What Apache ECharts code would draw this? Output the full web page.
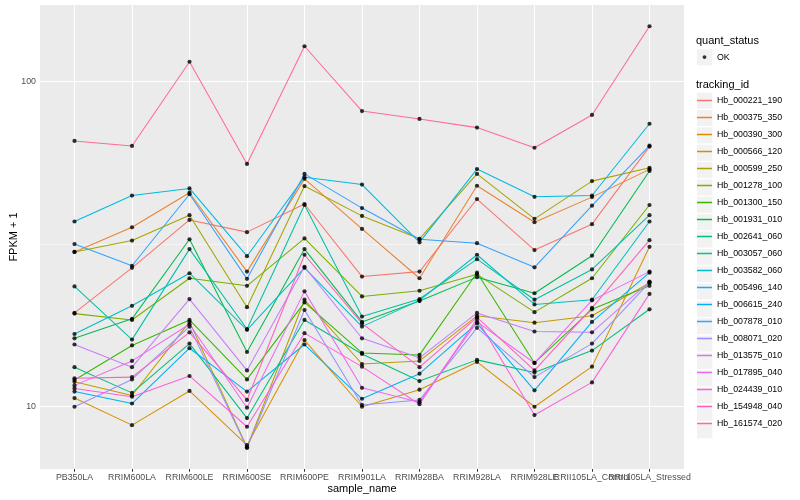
<!DOCTYPE html>
<html><head><meta charset="utf-8">
<script src="https://cdn.jsdelivr.net/npm/echarts@6/dist/echarts.min.js"></script>
<style>html,body{margin:0;padding:0;background:#fff}#c{width:800px;height:500px}</style>
</head><body><div id="c"></div>
<script>
const categories = ['PB350LA','RRIM600LA','RRIM600LE','RRIM600SE','RRIM600PE','RRIM901LA','RRIM928BA','RRIM928LA','RRIM928LE','RRII105LA_Control','RRII105LA_Stressed'];
const trackingIds = ['Hb_000221_190','Hb_000375_350','Hb_000390_300','Hb_000566_120','Hb_000599_250','Hb_001278_100','Hb_001300_150','Hb_001931_010','Hb_002641_060','Hb_003057_060','Hb_003582_060','Hb_005496_140','Hb_006615_240','Hb_007878_010','Hb_008071_020','Hb_013575_010','Hb_017895_040','Hb_024439_010','Hb_154948_040','Hb_161574_020'];
const colors = ['#F8766D','#EA8331','#D89000','#C09B00','#A3A500','#7CAE00','#39B600','#00BB4E','#00BF7D','#00C1A3','#00BFC4','#00BAE0','#00B0F6','#35A2FF','#9590FF','#C77CFF','#E76BF3','#FA62DB','#FF62BC','#FF6C91'];

// FPKM + 1 values per tracking id, in category order
const hb_000221_190 = [19.4, 26.7, 37.5, 34.4, 42.0, 25.1, 26.0, 43.5, 30.3, 36.4, 63.1];
const hb_000375_350 = [29.9, 35.6, 45.5, 26.0, 50.2, 35.2, 24.8, 47.8, 36.9, 44.1, 53.7];
const hb_000390_300 = [10.6, 8.75, 11.15, 7.59, 16.0, 9.97, 11.25, 13.7, 9.97, 13.25, 31.0];
const hb_000566_120 = [11.9, 10.8, 18.2, 7.48, 21.3, 13.5, 13.8, 19.0, 18.1, 19.0, 24.0];
const hb_000599_250 = [29.9, 32.4, 38.8, 20.2, 47.7, 38.6, 32.8, 52.0, 37.8, 49.4, 54.3];
const hb_001278_100 = [19.3, 18.45, 24.8, 23.5, 32.9, 21.8, 22.7, 25.5, 19.5, 24.8, 41.7];
const hb_001300_150 = [12.05, 15.4, 18.45, 12.1, 20.9, 14.6, 14.4, 25.8, 13.6, 19.9, 23.5];
const hb_001931_010 = [16.2, 18.6, 32.7, 14.7, 30.5, 18.2, 21.1, 25.0, 22.3, 29.1, 53.1];
const hb_002641_060 = [13.2, 11.0, 15.6, 9.2, 18.45, 14.5, 11.96, 13.9, 12.7, 14.85, 19.9];
const hb_003057_060 = [23.4, 16.05, 30.5, 17.3, 41.7, 18.9, 21.4, 28.4, 21.3, 26.4, 38.8];
const hb_003582_060 = [16.7, 20.4, 25.7, 17.2, 26.7, 17.6, 21.2, 29.3, 20.6, 21.3, 37.1];
const hb_005496_140 = [37.1, 44.6, 46.9, 29.0, 50.8, 48.2, 32.0, 53.8, 44.2, 44.6, 74.2];
const hb_006615_240 = [11.1, 10.2, 15.1, 11.1, 15.5, 10.55, 12.6, 18.0, 11.2, 18.2, 25.8];
const hb_007878_010 = [31.6, 27.1, 45.0, 24.7, 52.0, 40.8, 32.7, 31.8, 26.8, 41.5, 63.5];
const hb_008071_020 = [9.97, 12.1, 17.6, 7.44, 19.8, 10.1, 10.46, 17.45, 12.3, 15.6, 24.1];
const hb_013575_010 = [15.5, 13.2, 21.4, 12.9, 26.9, 16.2, 14.1, 19.4, 17.0, 16.9, 24.2];
const hb_017895_040 = [11.6, 13.8, 17.9, 9.9, 22.6, 11.4, 10.3, 18.2, 13.6, 21.2, 26.0];
const hb_024439_010 = [11.35, 10.7, 12.4, 8.65, 16.8, 13.25, 10.15, 18.6, 9.4, 11.85, 22.2];
const hb_154948_040 = [12.2, 12.3, 16.9, 10.46, 29.3, 18.0, 13.2, 18.8, 12.9, 20.1, 32.5];
const hb_161574_020 = [65.7, 63.4, 115.2, 55.8, 128.6, 81.2, 76.8, 72.2, 62.6, 79.0, 148.2];

const seriesValues = [hb_000221_190, hb_000375_350, hb_000390_300, hb_000566_120, hb_000599_250, hb_001278_100, hb_001300_150, hb_001931_010, hb_002641_060, hb_003057_060, hb_003582_060, hb_005496_140, hb_006615_240, hb_007878_010, hb_008071_020, hb_013575_010, hb_017895_040, hb_024439_010, hb_154948_040, hb_161574_020];

const yTicks = [10, 100];
const yMinorTicks = [31.62];
const yRange = [6.41, 172.3];

const FONT = '"Liberation Sans", Arial, Helvetica, sans-serif';
const lg = Math.log10;
const catIdx = categories.map((c, i) => i);
// labels split over two overlaid axes so that overlapping neighbours are all drawn
const labelIdxA = catIdx.filter(i => i % 2 === 0);
const labelIdxB = catIdx.filter(i => i % 2 === 1);

const lineIcon = 'path://M0,0L0.01,0L0,0.01Z M0,7.7L15,7.7L15,9.3L0,9.3Z M15,17L14.99,17L15,16.99Z';
const okIcon = 'path://M0,0L0.01,0L0,0.01Z M5.6,8.5A1.9,1.9 0 1 1 9.4,8.5A1.9,1.9 0 1 1 5.6,8.5Z M15,17L14.99,17L15,16.99Z';

const series = [];
series.push({
  name: '__grid', type: 'line', data: [], z: 1, silent: true,
  markLine: {
    z: 1, zlevel: 0,
    silent: true, symbol: ['none', 'none'], animation: false, label: {show: false},
    emphasis: {disabled: true},
    data: [
      ...catIdx.map(i => ({xAxis: i, lineStyle: {color: '#FFFFFF', width: 1.07, type: 'solid'}})),
      ...yTicks.map(v => ({yAxis: lg(v), lineStyle: {color: '#FFFFFF', width: 1.07, type: 'solid'}})),
      ...yMinorTicks.map(v => ({yAxis: lg(v), lineStyle: {color: '#FFFFFF', width: 0.53, type: 'solid'}}))
    ]
  }
});
trackingIds.forEach((id, k) => {
  series.push({
    name: id, type: 'line', z: 3, color: colors[k],
    showSymbol: false, symbol: 'none', silent: true,
    itemStyle: {color: colors[k]},
    lineStyle: {color: colors[k], width: 1.05},
    data: seriesValues[k].map((v, i) => [i, lg(v)])
  });
});
const allPoints = [];
seriesValues.forEach(arr => arr.forEach((v, i) => allPoints.push([i, lg(v)])));
series.push({
  name: 'OK', type: 'scatter', z: 6, color: '#000000', symbol: 'circle', symbolSize: 4.2,
  itemStyle: {color: '#000000'}, silent: true, data: allPoints
});

const legendTop = 92;
const rowH = 17.35;
const keyRects = [];
keyRects.push({type: 'rect', z: 0, silent: true, shape: {x: 697, y: 49.3, width: 15.4, height: 16}, style: {fill: '#F2F2F2'}});
trackingIds.forEach((id, k) => keyRects.push({type: 'rect', z: 0, silent: true,
  shape: {x: 697, y: legendTop + 0.7 + k * rowH, width: 15.4, height: 16}, style: {fill: '#F2F2F2'}}));

const xLabelStyle = {fontSize: 8.8, color: '#4D4D4D', fontFamily: FONT, margin: 4, hideOverlap: false, showMinLabel: true, showMaxLabel: true,
  formatter: v => categories[Math.round(v)]};

const chart = echarts.init(document.getElementById('c'), null, {renderer: 'canvas'});
chart.setOption({
  animation: false,
  backgroundColor: '#FFFFFF',
  grid: {left: 40, top: 5, width: 644, height: 464, show: true, backgroundColor: '#EBEBEB', borderWidth: 0, containLabel: false, outerBoundsMode: 'none'},
  xAxis: [
    {
      type: 'value', min: -0.6, max: 10.6, position: 'bottom',
      axisLine: {show: false},
      axisTick: {show: true, customValues: catIdx, length: 2.75, lineStyle: {color: '#333333', width: 1}},
      axisLabel: Object.assign({show: true, customValues: labelIdxA}, xLabelStyle),
      splitLine: {show: false},
      name: 'sample_name', nameLocation: 'middle', nameGap: 14, nameMoveOverlap: false,
      nameTextStyle: {fontSize: 11, color: '#000000', fontFamily: FONT}
    },
    {
      type: 'value', min: -0.6, max: 10.6, position: 'bottom', offset: 0,
      axisLine: {show: false},
      axisTick: {show: false},
      axisLabel: Object.assign({show: true, customValues: labelIdxB}, xLabelStyle),
      splitLine: {show: false}
    }
  ],
  yAxis: {
    type: 'value', min: lg(yRange[0]), max: lg(yRange[1]),
    axisLine: {show: false},
    axisTick: {show: true, customValues: yTicks.map(lg), length: 2.75, lineStyle: {color: '#333333', width: 1}},
    axisLabel: {show: true, customValues: yTicks.map(lg), formatter: v => String(Math.round(Math.pow(10, v))), fontSize: 8.8, color: '#4D4D4D', fontFamily: FONT, margin: 4},
    splitLine: {show: false},
    name: 'FPKM + 1', nameLocation: 'middle', nameGap: 21, nameRotate: 90, nameMoveOverlap: false,
    nameTextStyle: {fontSize: 11, color: '#000000', fontFamily: FONT}
  },
  legend: [
    {
      left: 697, top: 48.6, orient: 'vertical', padding: 0, itemGap: 0, itemWidth: 15, itemHeight: rowH,
      selectedMode: false, data: [{name: 'OK', icon: okIcon, itemStyle: {color: '#000000'}}],
      textStyle: {fontSize: 8.8, color: '#000000', fontFamily: FONT}
    },
    {
      left: 697, top: legendTop, orient: 'vertical', padding: 0, itemGap: 0, itemWidth: 15, itemHeight: rowH,
      selectedMode: false,
      data: trackingIds.map((id, k) => ({name: id, icon: lineIcon, itemStyle: {color: colors[k], borderWidth: 0}})),
      textStyle: {fontSize: 8.8, color: '#000000', fontFamily: FONT}
    }
  ],
  graphic: [
    ...keyRects,
    {type: 'text', z: 5, silent: true, style: {text: 'quant_status', x: 696, y: 40.7, verticalAlign: 'middle', font: '11px ' + FONT, fill: '#000000'}},
    {type: 'text', z: 5, silent: true, style: {text: 'tracking_id', x: 696, y: 85, verticalAlign: 'middle', font: '11px ' + FONT, fill: '#000000'}}
  ],
  series: series
});
</script>
</body></html>
